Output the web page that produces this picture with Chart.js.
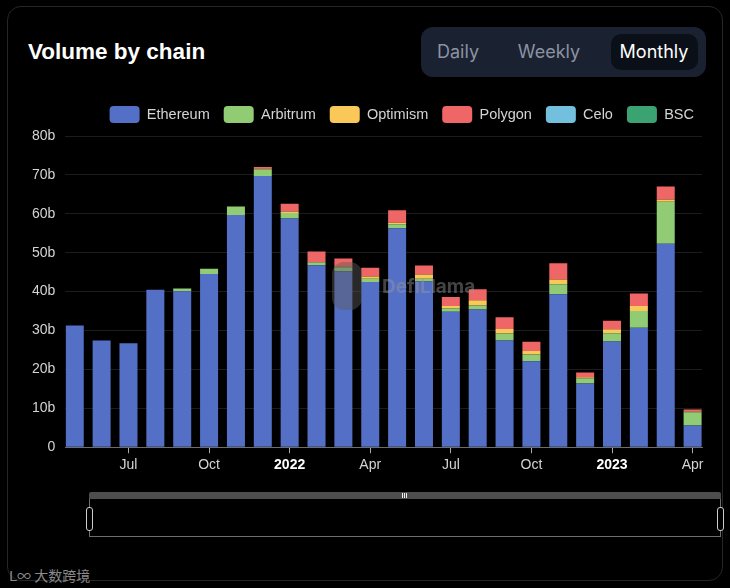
<!DOCTYPE html>
<html>
<head>
<meta charset="utf-8">
<script src="https://cdn.jsdelivr.net/npm/chart.js@4.4.0/dist/chart.umd.min.js"></script>
<style>
  html, body { margin: 0; padding: 0; background: #000; }
  body { width: 730px; height: 588px; position: relative; overflow: hidden; font-family: "Liberation Sans", Arial, sans-serif; }
  .card { position: absolute; left: 7px; top: 6px; width: 716px; height: 575px; border: 1px solid #262626; border-radius: 14px; box-sizing: border-box; }
  .title { position: absolute; left: 28px; top: 37px; color: #fff; font-size: 22.5px; font-weight: bold; line-height: 30px; }
  .toggle { position: absolute; left: 421px; top: 27px; width: 285px; height: 50px; background: #1a2130; border-radius: 12px; font-family: Inter, sans-serif; }
  .toggle span { position: absolute; top: 0; line-height: 50px; font-size: 18px; color: #8b93a3; transform: translateX(-50%); }
  .toggle .sel { position: absolute; left: 190px; top: 7px; width: 87px; height: 36px; background: #0b0f17; border-radius: 10px; }
  #wrap { position: absolute; left: 22px; top: 95px; width: 690px; height: 383px; }
  .llama { position: absolute; left: 382px; top: 275px; font-size: 19px; font-weight: 700; color: rgba(150,150,150,0.45); font-family: Inter, sans-serif; }
  .llogo { position: absolute; left: 332px; top: 262px; width: 30px; height: 48px; border-radius: 12px; background: rgba(90,90,90,0.45); }
  .slider-bar { position: absolute; left: 89px; top: 492px; width: 632px; height: 7px; background: #4d4d4d; border-radius: 2px 2px 0 0; }
  .slider-bar b { position: absolute; top: 1px; width: 1px; height: 5px; background: #eee; }
  .slider-frame { position: absolute; left: 89px; top: 499px; width: 632px; height: 38px; border: 1px solid #6e6e6e; border-top: none; box-sizing: border-box; }
  .handle { position: absolute; top: 507px; width: 7px; height: 24px; border: 1px solid #ccc; border-radius: 3px; background: #000; box-sizing: border-box; }
  .mark { position: absolute; left: 9px; top: 565px; color: #8a8a8a; font-size: 14px; font-family: "Noto Sans CJK SC", sans-serif; }
</style>
</head>
<body>
<div class="card"></div>
<div class="title">Volume by chain</div>
<div class="toggle">
  <div class="sel"></div>
  <span style="left:37px">Daily</span>
  <span style="left:128px">Weekly</span>
  <span style="left:233px;color:#fff">Monthly</span>
</div>
<div id="wrap"><canvas id="chart"></canvas></div>
<div class="llogo"></div>
<div class="llama">DefiLlama</div>
<div class="slider-bar"><b style="left:313px"></b><b style="left:315px"></b><b style="left:317px"></b></div>
<div class="slider-frame"></div>
<div class="handle" style="left:86px"></div>
<div class="handle" style="left:717px"></div>
<div class="mark">ᒪ∞ 大数跨境</div>

<script>
// Months from May 2021 to Apr 2023
const months = ['2021-05', '2021-06', '2021-07', '2021-08', '2021-09', '2021-10', '2021-11', '2021-12',
  '2022-01', '2022-02', '2022-03', '2022-04', '2022-05', '2022-06', '2022-07', '2022-08', '2022-09', '2022-10',
  '2022-11', '2022-12', '2023-01', '2023-02', '2023-03', '2023-04'];
const tickLabels = ['', '', 'Jul', '', '', 'Oct', '', '', '2022', '', '', 'Apr',
  '', '', 'Jul', '', '', 'Oct', '', '', '2023', '', '', 'Apr'];

// volumes in billions
const ethereum = [31.3, 27.4, 26.7, 40.5, 40.1, 44.5, 59.7, 69.7, 58.8, 46.8, 45.2, 42.5,
  56.3, 42.6, 34.8, 35.4, 27.4, 22.1, 39.3, 16.4, 27.2, 30.7, 52.3, 5.6];
const arbitrum = [0, 0, 0, 0, 0.7, 1.4, 2.2, 1.7, 1.4, 0.7, 1.0, 0.8,
  1.0, 0.7, 0.9, 1.0, 1.8, 1.7, 2.6, 1.3, 2.1, 4.3, 10.8, 3.4];
const optimism = [0, 0, 0, 0, 0, 0, 0, 0.2, 0.3, 0.1, 0.2, 0.6,
  0.4, 1.1, 0.6, 1.4, 1.2, 0.9, 1.2, 0.3, 1.0, 1.3, 0.5, 0.1];
const polygon = [0, 0, 0, 0, 0, 0, 0, 0.4, 2.1, 2.7, 2.1, 2.2,
  3.2, 2.3, 2.3, 2.8, 3.0, 2.4, 4.2, 1.2, 2.2, 3.2, 3.4, 0.6];
const celo = [0, 0, 0, 0, 0, 0, 0, 0, 0, 0, 0, 0,
  0, 0, 0, 0, 0, 0, 0, 0, 0, 0, 0, 0];
const bsc = [0, 0, 0, 0, 0, 0, 0, 0, 0, 0, 0, 0,
  0, 0, 0, 0, 0, 0, 0, 0, 0, 0, 0, 0];
const yTicks = [0, 10, 20, 30, 40, 50, 60, 70, 80];

const chains = [
  { label: 'Ethereum', data: ethereum, color: '#5470c6' },
  { label: 'Arbitrum', data: arbitrum, color: '#91cc75' },
  { label: 'Optimism', data: optimism, color: '#fac858' },
  { label: 'Polygon', data: polygon, color: '#ee6666' },
  { label: 'Celo', data: celo, color: '#73c0de' },
  { label: 'BSC', data: bsc, color: '#3ba272' }
];

Chart.defaults.font.family = '"Liberation Sans", Arial, sans-serif';

const isYear = c => c.tick && /^20/.test(tickLabels[c.tick.value]);

// nudge the legend up/right without moving the plot area
const legendNudge = {
  id: 'legendNudge',
  afterLayout(chart) {
    chart.legend.top -= 3;
    chart.legend.bottom -= 3;
    chart.legend.right += 6;
  }
};

const ctx = document.getElementById('chart').getContext('2d');
const chart = new Chart(ctx, {
  type: 'bar',
  data: {
    datasets: chains.map(c => ({
      label: c.label,
      data: c.data.map((v, i) => ({ x: i, y: v })),
      backgroundColor: c.color,
      borderWidth: 0,
      categoryPercentage: 1,
      barPercentage: 0.67
    }))
  },
  options: {
    responsive: true,
    maintainAspectRatio: false,
    animation: false,
    layout: { padding: { right: 10, bottom: 0 } },
    plugins: {
      legend: {
        align: 'end',
        labels: {
          boxWidth: 30,
          boxHeight: 17,
          useBorderRadius: true,
          borderRadius: 4,
          padding: 14,
          color: '#d4d4d4',
          font: { size: 14.5 }
        }
      },
      tooltip: { enabled: false }
    },
    scales: {
      x: {
        type: 'linear',
        stacked: true,
        offset: false,
        min: -0.35,
        max: months.length - 0.65,
        afterBuildTicks: axis => {
          axis.ticks = months.map((m, i) => ({ value: i }));
        },
        ticks: {
          autoSkip: false,
          maxRotation: 0,
          padding: 4,
          color: c => (isYear(c) ? '#fff' : '#d4d4d4'),
          font: c => ({ size: 14, weight: isYear(c) ? 'bold' : 'normal' }),
          callback: v => tickLabels[v]
        },
        grid: {
          offset: false,
          drawOnChartArea: false,
          drawTicks: true,
          tickLength: 6,
          color: c => (c.tick && tickLabels[c.tick.value] ? '#aaa' : 'transparent')
        },
        border: { display: true, color: '#6e6e6e' }
      },
      y: {
        stacked: true,
        min: 0,
        max: 80,
        afterBuildTicks: axis => {
          axis.ticks = yTicks.map(v => ({ value: v }));
        },
        ticks: {
          padding: 10,
          color: '#d4d4d4',
          font: { size: 14 },
          callback: v => (v === 0 ? '0' : v + 'b')
        },
        grid: { color: '#1c1c1c', drawTicks: false },
        border: { display: false }
      }
    }
  },
  plugins: [legendNudge]
});
</script>
</body>
</html>
